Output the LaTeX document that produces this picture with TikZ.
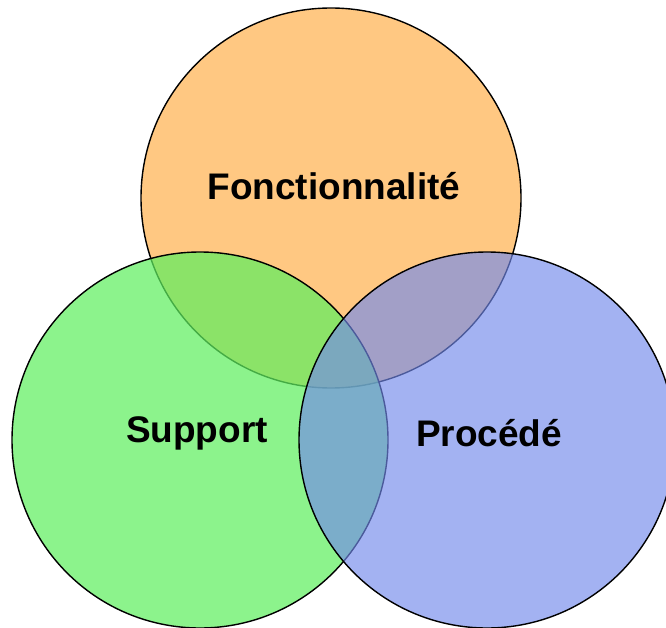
\documentclass[tikz,border=0pt]{standalone}
\usepackage{fontspec}
\setmainfont{Liberation Sans}
\definecolor{orangefill}{RGB}{255,200,130}
\definecolor{greenfill}{RGB}{95,238,95}
\definecolor{bluefill}{RGB}{115,138,236}
\begin{document}
\begin{tikzpicture}[x=1pt,y=-1pt,
  setcircle/.style={draw=black,line width=1.4pt},
  lbl/.style={font=\fontsize{37}{44}\selectfont\bfseries,text=black,inner sep=0pt}]
\useasboundingbox (0,0) rectangle (666,628);
\path[setcircle,fill=orangefill] (331,198) circle[radius=190];
\path[setcircle,fill=greenfill,fill opacity=0.72] (200,440) circle[radius=188];
\path[setcircle,fill=bluefill,fill opacity=0.66] (487,440) circle[radius=188];
\node[lbl] (fonc) at (334,186) {Fonctionnalité};
\node[lbl] (supp) at (197,433) {Support};
\node[lbl] (proc) at (489,433) {Procédé};
\end{tikzpicture}
\end{document}
